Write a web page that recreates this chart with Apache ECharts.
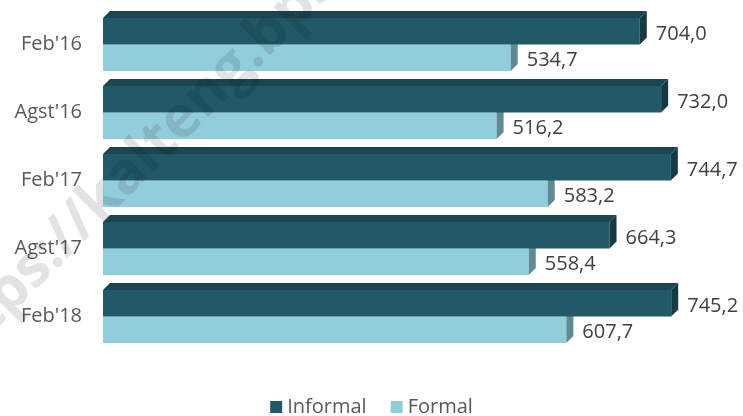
<!DOCTYPE html>
<html>
<head>
<meta charset="utf-8">
<script src="https://cdn.jsdelivr.net/npm/echarts@6/dist/echarts.min.js"></script>
<style>
  html, body { margin: 0; padding: 0; background: #fff; }
  #chart { width: 743px; height: 416px; }
</style>
</head>
<body>
<div id="chart"></div>
<script>
var categories = ["Feb'16", "Agst'16", "Feb'17", "Agst'17", "Feb'18"];
var informal = [704.0, 732.0, 744.7, 664.3, 745.2];
var formal = [534.7, 516.2, 583.2, 558.4, 607.7];

var font = 'Open Sans';
var depth = 7;

function fmt(v) {
  return v.toFixed(1).replace('.', ',');
}

// draws one 3D bar: front face, side face, and (for the upper bar) a top face
function render3d(upper, front, side, top) {
  return function (params, api) {
    var idx = api.value(1);
    var val = api.value(0);
    var c0 = api.coord([0, idx]);
    var c1 = api.coord([val, idx]);
    var h = api.size([0, 1])[1] * 0.39;
    var x0 = c0[0], x1 = c1[0];
    var y0 = upper ? c0[1] - h : c0[1];
    var y1 = y0 + h;
    var children = [
      { type: 'rect', shape: { x: x0, y: y0, width: x1 - x0, height: h }, style: { fill: front } },
      { type: 'polygon', shape: { points: [[x1, y0], [x1 + depth, y0 - depth], [x1 + depth, y1 - depth], [x1, y1]] }, style: { fill: side } }
    ];
    if (upper) {
      children.push({ type: 'polygon', shape: { points: [[x0, y0], [x0 + depth, y0 - depth], [x1 + depth, y0 - depth], [x1, y0]] }, style: { fill: top } });
    }
    children.push({
      type: 'text',
      style: {
        text: fmt(val), x: x1 + depth + 9, y: (y0 + y1) / 2 + 3,
        verticalAlign: 'middle', align: 'left',
        fill: '#404040', font: '20px "' + font + '"'
      }
    });
    return { type: 'group', children: children };
  };
}

var chart = echarts.init(document.getElementById('chart'));
chart.setOption({
  animation: false,
  grid: { left: 103, top: 10.5, height: 340, width: 610 },
  legend: {
    bottom: -6,
    left: 'center',
    itemWidth: 12,
    itemHeight: 12,
    itemGap: 24,
    icon: 'rect',
    textStyle: { fontFamily: font, fontSize: 20, color: '#595959' },
    data: [
      { name: 'Informal', itemStyle: { color: '#215968' } },
      { name: 'Formal', itemStyle: { color: '#92CDDC' } }
    ]
  },
  xAxis: { type: 'value', min: 0, max: 800, show: false, splitLine: { show: false } },
  yAxis: {
    type: 'category',
    data: categories,
    inverse: true,
    axisLine: { show: false },
    axisTick: { show: false },
    axisLabel: { fontFamily: font, fontSize: 20, color: '#595959', margin: 21 }
  },
  series: [
    {
      name: 'Informal', type: 'custom', z: 3,
      itemStyle: { color: '#215968' },
      encode: { x: 0, y: 1 },
      renderItem: render3d(true, '#215968', '#163a44', '#1b4651'),
      data: informal.map(function (v, i) { return [v, i]; })
    },
    {
      name: 'Formal', type: 'custom', z: 2,
      itemStyle: { color: '#92CDDC' },
      encode: { x: 0, y: 1 },
      renderItem: render3d(false, '#92CDDC', '#5f8a94', '#92CDDC'),
      data: formal.map(function (v, i) { return [v, i]; })
    }
  ],
  graphic: [{
    type: 'text',
    x: 186, y: 116,
    rotation: Math.PI / 4,
    z: 100,
    silent: true,
    style: {
      text: 'https://kalteng.bps.go.id',
      align: 'center', verticalAlign: 'middle',
      font: 'bold 58px "' + font + '"',
      fill: 'rgba(0,0,0,0.11)'
    }
  }]
});
</script>
</body>
</html>
